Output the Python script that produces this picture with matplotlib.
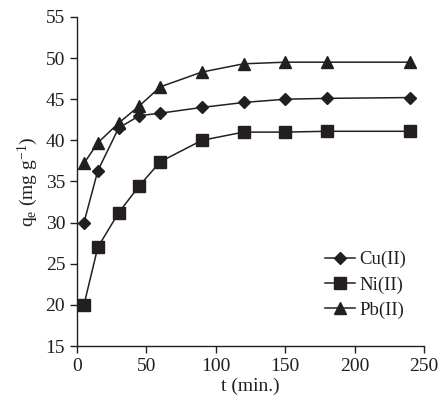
import numpy as np
import matplotlib
matplotlib.use('Agg')
import matplotlib.pyplot as plt

plt.rcParams['font.family'] = 'Liberation Serif'
plt.rcParams['mathtext.fontset'] = 'custom'
plt.rcParams['mathtext.rm'] = 'Liberation Serif'
plt.rcParams['mathtext.it'] = 'Liberation Serif'

t = [5, 15, 30, 45, 60, 90, 120, 150, 180, 240]
cu = [30.0, 36.3, 41.5, 43.0, 43.3, 44.0, 44.6, 45.0, 45.1, 45.2]
ni = [20.0, 27.0, 31.2, 34.5, 37.4, 40.0, 41.0, 41.0, 41.1, 41.1]
pb = [37.2, 39.7, 42.1, 44.2, 46.5, 48.3, 49.3, 49.5, 49.5, 49.5]

col = '#231f20'
fig = plt.figure(figsize=(4.4, 4.03), dpi=100)
ax = fig.add_axes([0.175, 0.1414, 0.7886, 0.8166])

ax.plot(t, cu, '-', marker='D', color=col, lw=1.1, ms=6.5, label='Cu(II)')
ax.plot(t, ni, '-', marker='s', color=col, lw=1.1, ms=9, label='Ni(II)')
ax.plot(t, pb, '-', marker='^', color=col, lw=1.1, ms=8.5, label='Pb(II)')

ax.set_xlim(0, 250)
ax.set_ylim(15, 55)
ax.set_xticks(np.arange(0, 251, 50))
ax.set_yticks(np.arange(15, 56, 5))
ax.spines['top'].set_visible(False)
ax.spines['right'].set_visible(False)
for s in ['left', 'bottom']:
    ax.spines[s].set_color(col)
    ax.spines[s].set_linewidth(1.0)
ax.tick_params(direction='out', length=5, width=1.0, colors=col, labelsize=14)

ax.set_xlabel('t (min.)', fontsize=14, color=col, labelpad=2)
ax.set_ylabel(r'q$_\mathrm{e}$ (mg g$^{\mathrm{-1}}$)', fontsize=14, color=col, labelpad=4)

leg = ax.legend(loc='lower right', bbox_to_anchor=(0.97, 0.06), frameon=False,
                fontsize=13.5, handlelength=1.6, handletextpad=0.2,
                labelspacing=0.42, borderaxespad=0)
for txt in leg.get_texts():
    txt.set_color(col)

fig.savefig('out.png', dpi=100)
